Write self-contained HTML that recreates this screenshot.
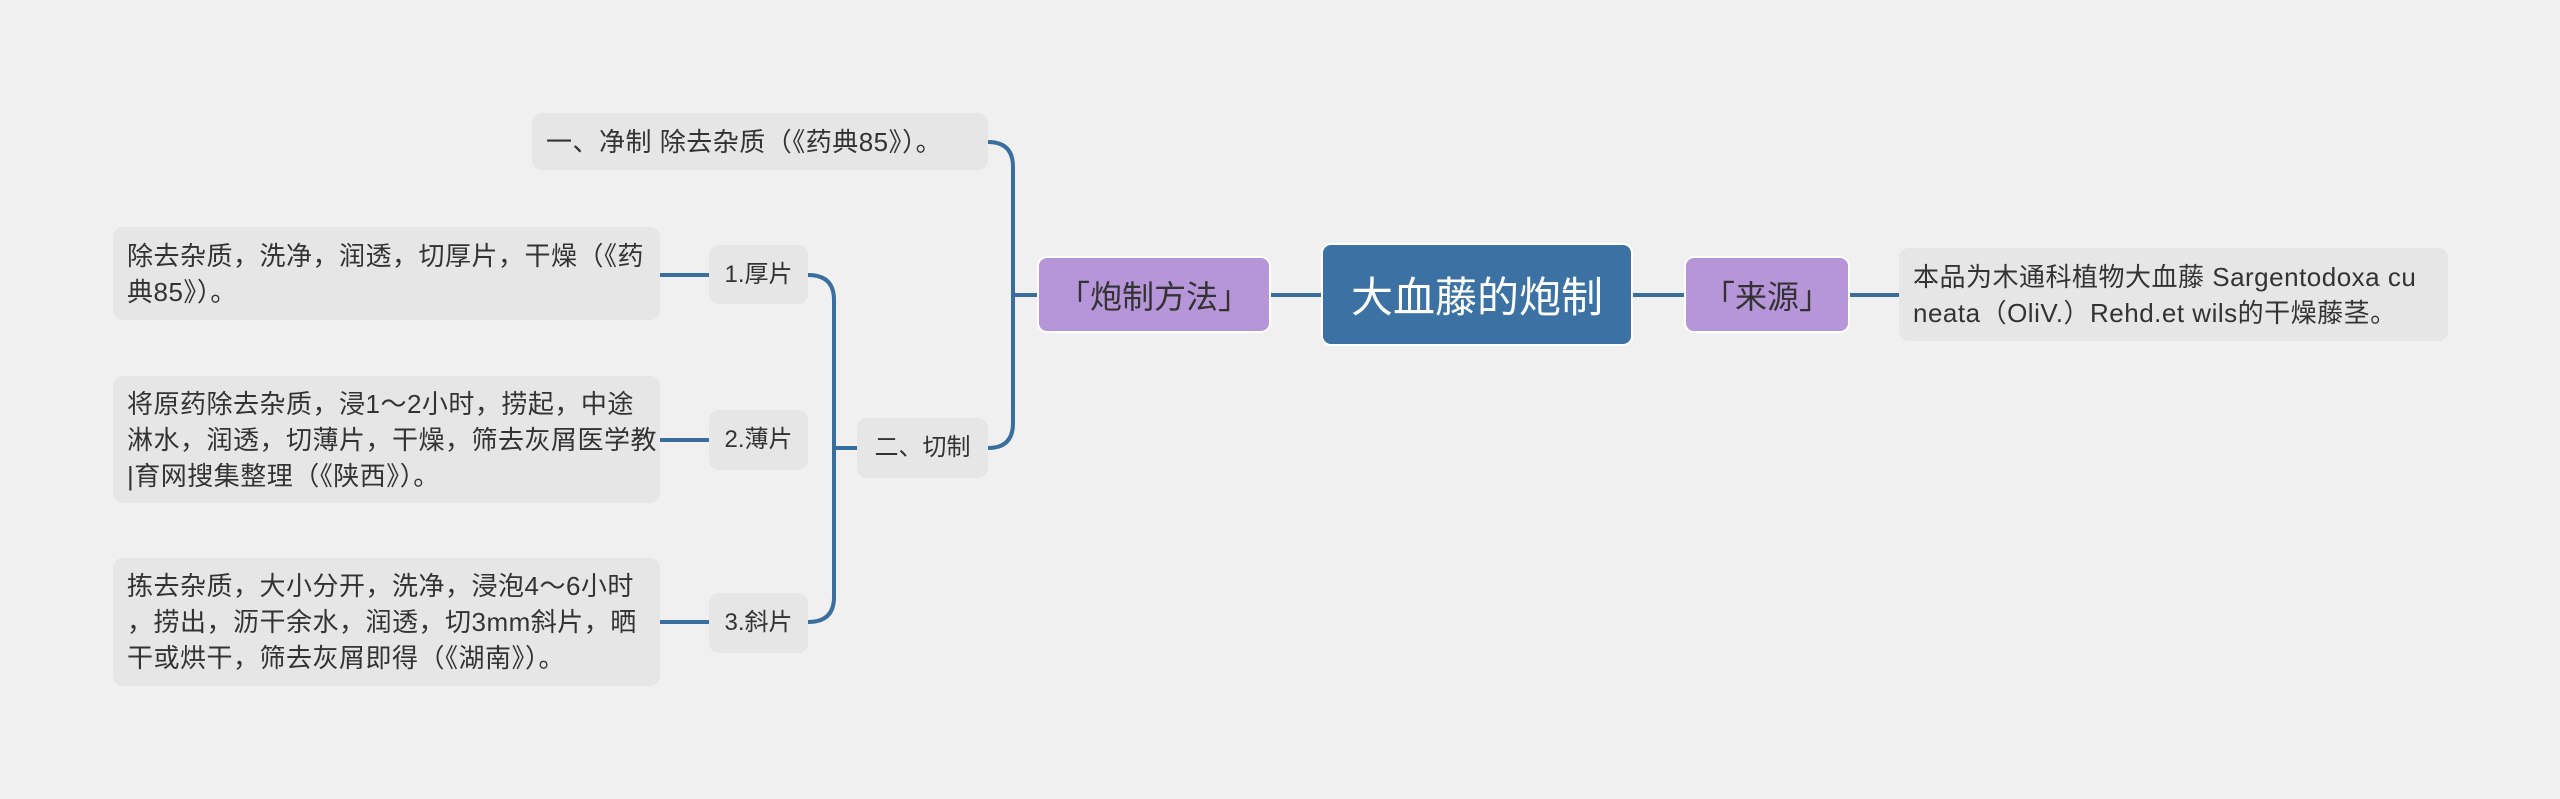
<!DOCTYPE html>
<html><head><meta charset="utf-8"><style>
body{margin:0;width:2560px;height:799px;background:#f0f0f0;position:relative;overflow:hidden;font-family:"Liberation Sans","Noto Sans CJK SC",sans-serif;}
.b{position:absolute;box-sizing:border-box;border-radius:10px;color:#333;display:flex;align-items:center;white-space:nowrap;}
.g{background:#e6e6e6;font-size:26px;line-height:36px;padding:0 14px;letter-spacing:0.5px;}
.s{font-size:24px;letter-spacing:0;}
.c{justify-content:center;}
.p{background:#b795d9;font-size:32px;color:#333;justify-content:center;border:2px solid #fff;}
svg{position:absolute;left:0;top:0;}
</style></head><body>
<svg width="2560" height="799" fill="none" stroke="#3a6e9e" stroke-width="4">
<path d="M1271 295 H1321"/>
<path d="M1633 295 H1684"/>
<path d="M1850 295 H1899"/>
<path d="M1039 295 H1013"/>
<path d="M988 142 Q1013 142 1013 167 V423 Q1013 448 988 448"/>
<path d="M857 448 H834"/>
<path d="M808 275 Q834 275 834 300 V597 Q834 622 808 622"/>
<path d="M709 275 H660"/>
<path d="M709 440 H660"/>
<path d="M709 622 H660"/>
</svg>
<div class="b c" style="left:1321px;top:243px;width:312px;height:103px;background:#3b72a3;color:#fff;font-size:42px;border:2px solid #fff;">大血藤的炮制</div>
<div class="b p" style="left:1684px;top:256px;width:166px;height:77px;">「来源」</div>
<div class="b p" style="left:1037px;top:256px;width:234px;height:77px;">「炮制方法」</div>
<div class="b g" style="left:1899px;top:248px;width:549px;height:93px;">本品为木通科植物大血藤 Sargentodoxa cu<br>neata（OliV.）Rehd.et wils的干燥藤茎。</div>
<div class="b g" style="left:532px;top:113px;width:456px;height:57px;">一、净制 除去杂质（《药典85》）。</div>
<div class="b g c s" style="left:857px;top:418px;width:131px;height:60px;padding:0;">二、切制</div>
<div class="b g c s" style="left:709px;top:245px;width:99px;height:59px;padding:0;">1.厚片</div>
<div class="b g c s" style="left:709px;top:410px;width:99px;height:60px;padding:0;">2.薄片</div>
<div class="b g c s" style="left:709px;top:593px;width:99px;height:60px;padding:0;">3.斜片</div>
<div class="b g" style="left:113px;top:227px;width:547px;height:93px;">除去杂质，洗净，润透，切厚片，干燥（《药<br>典85》）。</div>
<div class="b g" style="left:113px;top:376px;width:547px;height:127px;">将原药除去杂质，浸1～2小时，捞起，中途<br>淋水，润透，切薄片，干燥，筛去灰屑医学教<br>|育网搜集整理（《陕西》）。</div>
<div class="b g" style="left:113px;top:558px;width:547px;height:128px;">拣去杂质，大小分开，洗净，浸泡4～6小时<br>，捞出，沥干余水，润透，切3mm斜片，晒<br>干或烘干，筛去灰屑即得（《湖南》）。</div>
</body></html>
